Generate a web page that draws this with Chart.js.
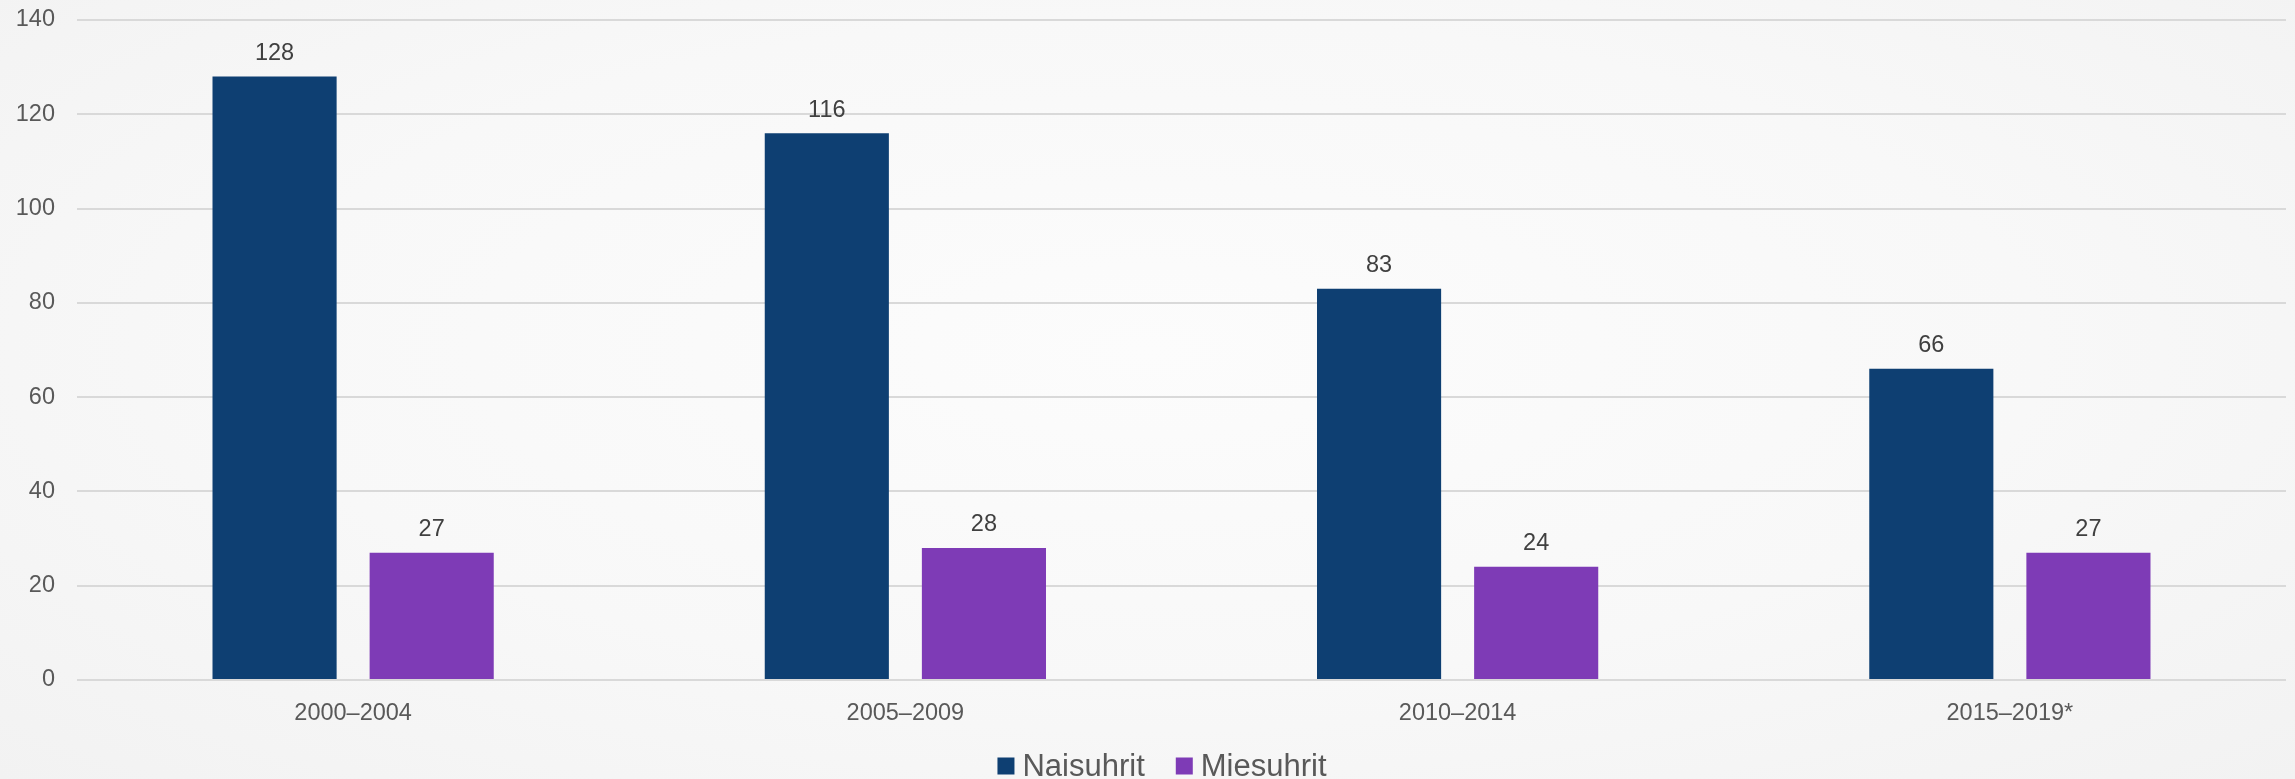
<!DOCTYPE html>
<html>
<head>
<meta charset="utf-8">
<script src="https://cdn.jsdelivr.net/npm/chart.js@4/dist/chart.umd.min.js"></script>
<style>
  html, body { margin: 0; padding: 0; overflow: hidden; }
  body { background: radial-gradient(ellipse at 50% 45%, #fcfcfc 0%, #f8f8f8 55%, #f2f2f2 100%); }
  #wrap { width: 2295px; height: 779px; position: relative; }
</style>
</head>
<body>
<div id="wrap"><canvas id="chart-uhrit"></canvas></div>
<script>
const kaudet = ["2000–2004", "2005–2009", "2010–2014", "2015–2019*"];
const naisuhrit = [128, 116, 83, 66];
const miesuhrit = [27, 28, 24, 27];
const yTicks = [0, 20, 40, 60, 80, 100, 120, 140];

const labelFont = "'Liberation Sans', Arial, sans-serif";

// numbers above bars
const arvot = {
  id: "arvot",
  afterDatasetsDraw(chart) {
    const ctx = chart.ctx;
    ctx.save();
    ctx.font = "23.5px " + labelFont;
    ctx.fillStyle = "#404040";
    ctx.textAlign = "center";
    ctx.textBaseline = "middle";
    chart.data.datasets.forEach((ds, i) => {
      chart.getDatasetMeta(i).data.forEach((bar, j) => {
        ctx.fillText(ds.data[j], bar.x, bar.y - 23);
      });
    });
    ctx.restore();
  }
};

// legend at the bottom, partly cut like the original
const selite = {
  id: "selite",
  afterDraw(chart) {
    const ctx = chart.ctx;
    ctx.save();
    ctx.font = "31px " + labelFont;
    ctx.textBaseline = "middle";
    const y = 766;
    const items = chart.data.datasets.map(ds => ({
      text: ds.label, color: ds.backgroundColor,
      w: 17 + 8 + ctx.measureText(ds.label).width
    }));
    const gap = 31;
    const total = items.reduce((s, it) => s + it.w, 0) + gap * (items.length - 1);
    let x = 1162 - total / 2;
    items.forEach(it => {
      ctx.fillStyle = it.color;
      ctx.fillRect(x, y - 8.5, 17, 17);
      ctx.fillStyle = "#595959";
      ctx.fillText(it.text, x + 25, y + 1);
      x += it.w + gap;
    });
    ctx.restore();
  }
};

new Chart(document.getElementById("chart-uhrit"), {
  type: "bar",
  data: {
    labels: kaudet,
    datasets: [
      {
        label: "Naisuhrit",
        backgroundColor: "#0e3f72",
        data: naisuhrit,
      },
      {
        label: "Miesuhrit",
        backgroundColor: "#7e3bb6",
        data: miesuhrit,
      },
    ],
  },
  options: {
    responsive: true,
    maintainAspectRatio: false,
    animation: false,
    layout: {
      padding: { top: 20, right: 9, bottom: 40, left: 0 }
    },
    datasets: {
      bar: {
        categoryPercentage: 0.569,
        barPercentage: 0.79,
      }
    },
    scales: {
      x: {
        grid: { display: false, drawTicks: false },
        border: { display: false },
        ticks: {
          color: "#595959",
          font: { family: labelFont, size: 23.5 },
          padding: 19,
        },
        afterFit(scale) { scale.height = 59; }
      },
      y: {
        min: 0,
        max: 140,
        afterBuildTicks(scale) { scale.ticks = yTicks.map(v => ({ value: v })); },
        grid: { color: "#d9d9d9", lineWidth: 2, drawTicks: true, tickLength: 22, tickColor: "rgba(0,0,0,0)" },
        border: { display: false },
        ticks: {
          color: "#595959",
          font: { family: labelFont, size: 23.5 },
          padding: 0,
        },
        afterFit(scale) { scale.width = 77; }
      }
    },
    plugins: {
      legend: { display: false },
      tooltip: { enabled: false },
    }
  },
  plugins: [arvot, selite]
});
</script>
</body>
</html>
